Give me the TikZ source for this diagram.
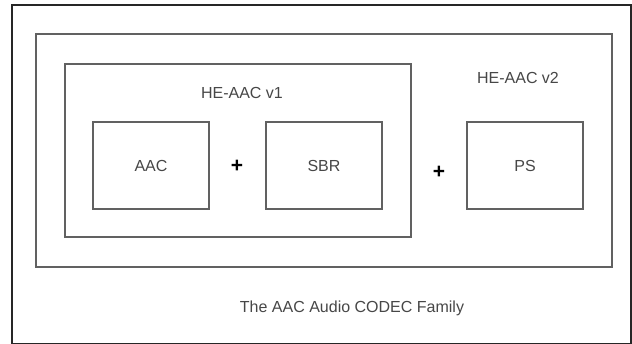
\documentclass[tikz,border=0pt]{standalone}
\usepackage{fontspec}
\setmainfont{Liberation Sans}
\begin{document}
\begin{tikzpicture}[x=1pt,y=-1pt,
  box/.style={draw=black!62,line width=1.6pt,inner sep=0pt},
  lbl/.style={text=black!72,font=\fontsize{16}{19}\selectfont,inner sep=0pt},
  plus/.style={text=black,font=\fontsize{21}{24}\selectfont\bfseries,inner sep=0pt}]
\useasboundingbox (0,0) rectangle (632,344);
\fill[white] (0,0) rectangle (632,344);
\draw[black!85,line width=1.1pt] (12,5) rectangle (631,344);
\draw[box] (36,34) rectangle (612,267);
\draw[box] (65,64) rectangle (411,237);
\node[box,minimum width=116pt,minimum height=87pt] (aac) at (151,165.5) {};
\node[box,minimum width=116pt,minimum height=87pt] (sbr) at (324,165.5) {};
\node[box,minimum width=116pt,minimum height=87pt] (ps) at (525,165.5) {};
\node[lbl] (aact) at (aac) {AAC};
\node[lbl] (sbrt) at (sbr) {SBR};
\node[lbl] (pst) at (ps) {PS};
\node[lbl] (v1) at (242,93) {HE-AAC v1};
\node[lbl] (v2) at (518,78) {HE-AAC v2};
\node[plus] (p1) at (237,166) {+};
\node[plus] (p2) at (439,172) {+};
\node[lbl] (cap) at (352,308) {The AAC Audio CODEC Family};
\end{tikzpicture}
\end{document}
